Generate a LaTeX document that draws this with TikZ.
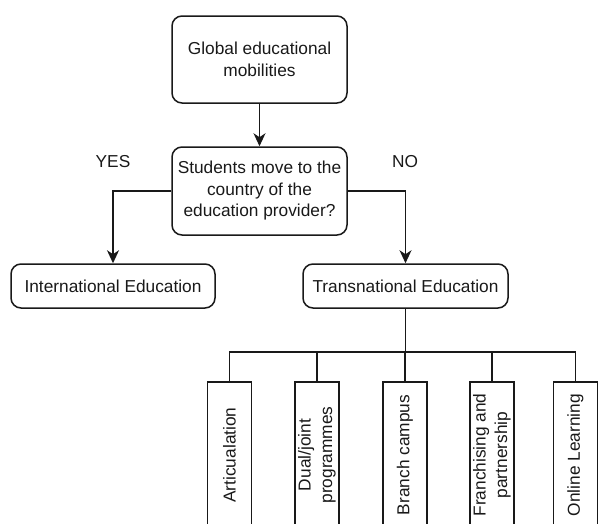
\documentclass[tikz,border=0pt]{standalone}
\usepackage{fontspec}
\setmainfont{Liberation Sans}
\usetikzlibrary{arrows.meta}
\begin{document}
\begin{tikzpicture}[x=1pt,y=1pt,
  every node/.style={font=\fontsize{17.3}{21.5}\selectfont, inner sep=0pt, align=center, text=black!90},
  rbox/.style={draw=black!90, line width=1.5pt, rounded corners=10pt},
  leaf/.style={draw=black!90, line width=1.5pt, rotate=90, minimum width=146pt, minimum height=44pt},
  conn/.style={draw=black!90, line width=1.5pt},
  arr/.style={conn, -{Stealth[length=13pt,width=12pt,inset=4pt]}}]
\useasboundingbox (0,0) rectangle (598,-523);
\clip (0,0) rectangle (598,-523);
\node[rbox, minimum width=175pt, minimum height=87pt] (g) at (259.5,-59.5) {Global educational\\mobilities};
\node[rbox, minimum width=175pt, minimum height=88pt] (d) at (259.5,-191) {Students move to the\\country of the\\education provider?};
\node[rbox, minimum width=204pt, minimum height=44pt] (intl) at (113,-286) {International Education};
\node[rbox, minimum width=205pt, minimum height=44pt] (trans) at (405.5,-286) {Transnational Education};
\node (yes) at (113,-162) {YES};
\node (no) at (405,-162) {NO};
\node[leaf] (b1) at (229.5,-455) {Articualation};
\node[leaf] (b2) at (317,-455) {Dual/joint\\programmes};
\node[leaf] (b3) at (405,-455) {Branch campus};
\node[leaf] (b4) at (492,-455) {Franchising and\\partnership};
\node[leaf] (b5) at (575.5,-455) {Online Learning};
\coordinate (bus) at (405.5,-352);
\draw[arr] (g.south) -- (d.north);
\draw[arr] (d.west) -| (intl.north);
\draw[arr] (d.east) -| (trans.north);
\draw[conn] (trans.south) -- (bus);
\foreach \b in {b1,b2,b3,b4,b5} {\draw[conn] (bus) -| (\b.east);}
\end{tikzpicture}
\end{document}
